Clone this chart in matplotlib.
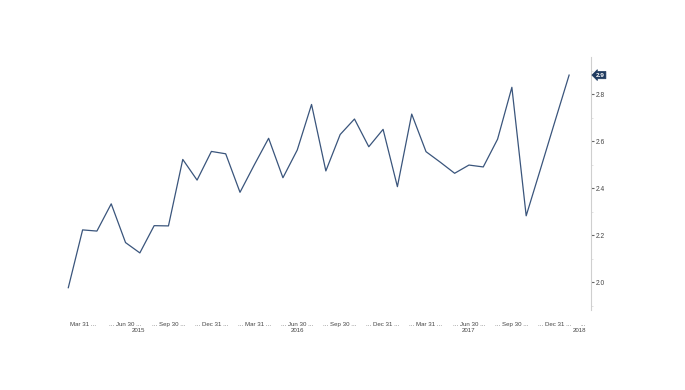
import matplotlib
matplotlib.use("Agg")
import matplotlib.pyplot as plt
import matplotlib.transforms as mtransforms
import numpy as np

# Monthly series Feb 2015 .. Jan 2018
values = [1.977, 2.223, 2.218, 2.334, 2.169, 2.125, 2.241, 2.240, 2.523, 2.435,
          2.557, 2.547, 2.383, 2.500, 2.613, 2.445, 2.563, 2.757, 2.474, 2.629,
          2.695, 2.577, 2.651, 2.407, 2.716, 2.556, 2.511, 2.464, 2.499, 2.491,
          2.609, 2.830, 2.283, 2.482, 2.683, 2.882]
tick_pos = [1, 4, 7, 10, 13, 16, 19, 22, 25, 28, 31, 34, 36]
tick_labels = ["Mar 31 ...", "... Jun 30 ...", "... Sep 30 ...", "... Dec 31 ...",
               "... Mar 31 ...", "... Jun 30 ...", "... Sep 30 ...", "... Dec 31 ...",
               "... Mar 31 ...", "... Jun 30 ...", "... Sep 30 ...", "... Dec 31 ...", "..."]
year_pos = [4.9, 16, 28, 35.7]
year_labels = ["2015", "2016", "2017", "2018"]
last_label = "2.9"

W, H = 685, 390
fig = plt.figure(figsize=(W / 100, H / 100), dpi=100)
ax = fig.add_axes([60 / W, 1 - 310 / H, (591 - 60) / W, (310 - 57) / H])

x = np.arange(len(values))
ax.plot(x, values, color="#3a557c", lw=0.9)

ax.set_xlim(-0.58, 36.53)
ax.set_ylim(1.882, 2.959)

for s in ["left", "top", "bottom"]:
    ax.spines[s].set_visible(False)
ax.spines["right"].set_color("#cfcfcf")
ax.spines["right"].set_linewidth(0.8)

ax.yaxis.tick_right()
ax.set_yticks([2.0, 2.2, 2.4, 2.6, 2.8])
ax.set_yticklabels(["2.0", "2.2", "2.4", "2.6", "2.8"])
ax.set_yticks(np.arange(1.9, 2.95, 0.2), minor=True)
ax.tick_params(axis="y", which="major", length=2, width=0.8, color="#666666",
               pad=1.5, labelsize=4.8, labelcolor="#444444")
ax.tick_params(axis="y", which="minor", length=1.5, width=0.6, color="#dddddd")
for t in ax.get_yticklabels():
    t.set_fontfamily("Liberation Sans")

ax.set_xticks(tick_pos)
ax.set_xticklabels(tick_labels, fontsize=4.4, color="#444444", family="Liberation Sans")
ax.tick_params(axis="x", length=0, pad=8.5)

trans = mtransforms.blended_transform_factory(ax.transData, ax.transAxes)
for p, lab in zip(year_pos, year_labels):
    ax.text(p, -0.08, lab, transform=trans, ha="center", va="center",
            fontsize=4.4, color="#444444", family="Liberation Sans")

# last value tag
ax.annotate(last_label, xy=(1.0, values[-1]), xycoords=("axes fraction", "data"),
            xytext=(3.5, 0), textcoords="offset points", ha="left", va="center",
            fontsize=4.6, color="white", family="Liberation Sans", fontweight="bold",
            bbox=dict(boxstyle="larrow,pad=0.18", fc="#1f3a5f", ec="#1f3a5f", lw=0.5),
            annotation_clip=False)

fig.savefig("out.png", dpi=100, facecolor="white")
